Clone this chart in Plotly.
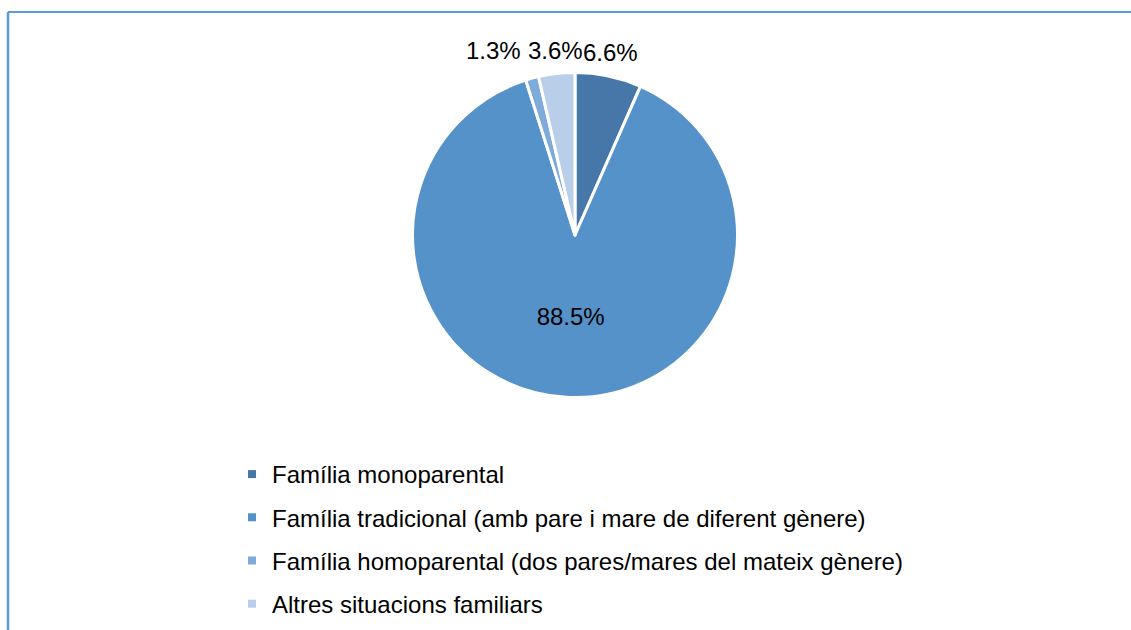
import math
import plotly.graph_objects as go

categories = [
    "Família monoparental",
    "Família tradicional (amb pare i mare de diferent gènere)",
    "Família homoparental (dos pares/mares del mateix gènere)",
    "Altres situacions familiars",
]
values = [6.6, 88.5, 1.3, 3.6]
colors = ["#4677A8", "#5592C9", "#7FABDA", "#B9CEE8"]
label_inside = [False, True, False, False]

W, H = 1131, 630
FONT = "Liberation Sans, Arial, sans-serif"
FS = 24

# pie geometry (pixels)
CX, CY, R = 575, 235, 162.5
dom_x = [(CX - 200) / W, (CX + 200) / W]
dom_y = [(H - (CY + R)) / H, (H - (CY - R)) / H]

total = sum(values)
fmt = [f"{v / total * 100:.1f}%" for v in values]

fig = go.Figure()
fig.add_trace(go.Pie(
    labels=categories,
    values=values,
    sort=False,
    direction="clockwise",
    rotation=0,
    marker=dict(colors=colors, line=dict(color="white", width=3)),
    text=fmt,
    texttemplate=[t if ins else "" for t, ins in zip(fmt, label_inside)],
    textposition=["inside" if ins else "none" for ins in label_inside],
    insidetextorientation="horizontal",
    textfont=dict(family=FONT, size=FS, color="black"),
    hoverinfo="label+percent",
    showlegend=False,
    domain=dict(x=dom_x, y=dom_y),
))

# outside labels placed along each slice bisector (derived from the values)
char_w = {".": 0.278, "%": 0.889}
def text_width(s):
    return sum(char_w.get(ch, 0.556) for ch in s) * FS

labels_out = []
cum = 0.0
for v, t, ins in zip(values, fmt, label_inside):
    mid = (cum + v / 2) / total * 2 * math.pi
    cum += v
    if ins:
        continue
    rr = R + 8
    x = CX + rr * math.sin(mid)
    y = CY - rr * math.cos(mid)
    labels_out.append([x, y, t])

labels_out.sort(key=lambda a: -a[0])
prev_left = None
prev_y = None
for lab in labels_out:
    w = text_width(lab[2])
    if prev_left is not None and lab[0] + w / 2 > prev_left + 2:
        lab[0] = prev_left - 8 - w / 2
        lab[1] = prev_y
    prev_left = lab[0] - w / 2
    prev_y = lab[1]
    fig.add_annotation(
        x=lab[0] / W, y=1 - lab[1] / H, xref="paper", yref="paper",
        text=lab[2], showarrow=False, xanchor="center", yanchor="bottom",
        font=dict(family=FONT, size=FS, color="black"),
    )

for i, (c, col) in enumerate(zip(categories, colors)):
    fig.add_trace(go.Scatter(
        x=[None], y=[None], mode="markers",
        marker=dict(symbol="square", size=8, color=col),
        name=c, legendgroup=str(i), showlegend=True,
    ))

fig.update_layout(
    width=W, height=H,
    margin=dict(l=0, r=0, t=0, b=0),
    paper_bgcolor="white", plot_bgcolor="white",
    xaxis=dict(visible=False), yaxis=dict(visible=False),
    legend=dict(
        x=232 / W, y=(H - 452) / H, xanchor="left", yanchor="top",
        font=dict(family=FONT, size=FS, color="black"),
        tracegroupgap=9, itemwidth=30,
        bgcolor="rgba(0,0,0,0)",
    ),
    shapes=[
        dict(type="line", xref="paper", yref="paper", x0=8 / W, x1=8 / W, y0=0, y1=(H - 12) / H,
             line=dict(color="#5B9BD5", width=2.5)),
        dict(type="line", xref="paper", yref="paper", x0=8 / W, x1=1, y0=(H - 12) / H, y1=(H - 12) / H,
             line=dict(color="#5B9BD5", width=2)),
    ],
)

fig.write_html("out.html", config={"displayModeBar": False},
               post_script="document.body.style.margin='0';")
